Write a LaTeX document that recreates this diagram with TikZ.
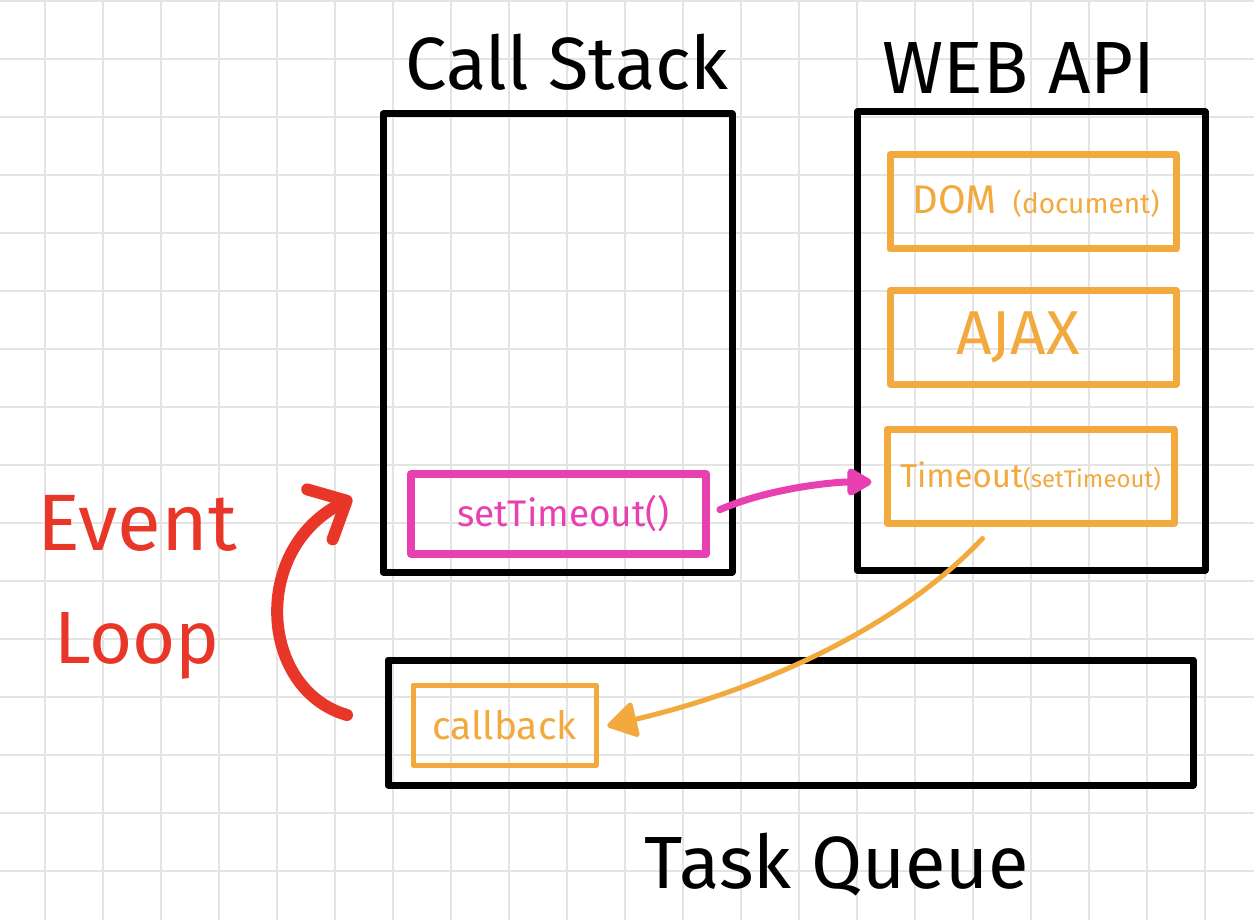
\documentclass[tikz,border=0pt]{standalone}
\usepackage{fontspec}
\setmainfont{Fira Sans}
\usetikzlibrary{arrows.meta,positioning}

\definecolor{gridgray}{RGB}{228,228,228}
\definecolor{inkorange}{RGB}{242,169,62}
\definecolor{inkpink}{RGB}{232,64,176}
\definecolor{inkred}{RGB}{232,54,40}

\begin{document}
\begin{tikzpicture}[x=1pt,y=-1pt,
    gridline/.style={gridgray, line width=2pt},
    bigbox/.style={draw, line width=7pt, line join=round, inner sep=0pt},
    apibox/.style={draw=inkorange, line width=7pt, line join=round, inner sep=0pt, text=inkorange},
    title/.style={font=\fontsize{74}{80}\selectfont, inner sep=0pt, anchor=base}]

    % Canvas
    \fill[white] (0,0) rectangle (1254,920);
    \useasboundingbox (0,0) rectangle (1254,920);

    % Grid
    \foreach \i in {0,...,20}
        \draw[gridline] ({45+58*\i},0) -- ({45+58*\i},920);
    \foreach \j in {0,...,15}
        \draw[gridline] (0,{1+58*\j}) -- (1254,{1+58*\j});

    % Main boxes
    \node[bigbox, minimum width=349pt, minimum height=458pt] (stack) at (557.5,343) {};
    \node[bigbox, minimum width=348pt, minimum height=458pt] (webapi) at (1031,341) {};
    \node[bigbox, minimum width=805pt, minimum height=125pt] (queue) at (790.5,722.5) {};

    % Titles
    \node[title] (stacktitle) at (567,90) {Call Stack};
    \node[title] (apititle) at (1019,94) {WEB API};
    \node[title] (queuetitle) at (837,888) {Task Queue};

    % Web API parts
    \node[apibox, minimum width=286pt, minimum height=94pt] (dom) at (1033,202)
        {\hspace*{6pt}{\fontsize{40}{40}\selectfont DOM}\hspace{16pt}{\fontsize{28}{28}\selectfont(document)}};
    \node[apibox, minimum width=286pt, minimum height=93pt, font=\fontsize{62}{62}\selectfont] (ajax) at (1033,337.5)
        {\hspace*{-30pt}AJAX};
    \node[apibox, minimum width=287pt, minimum height=94pt] (timeout) at (1030.5,476)
        {{\fontsize{33}{33}\selectfont Timeout}{\fontsize{24}{24}\selectfont(setTimeout)}};

    % Stack and queue items
    \node[draw=inkpink, line width=7.5pt, line join=round, inner sep=0pt, text=inkpink,
        minimum width=295pt, minimum height=80pt, font=\fontsize{37}{37}\selectfont] (settimeout) at (558.5,514)
        {\hspace*{10pt}setTimeout()};
    \node[draw=inkorange, line width=5pt, line join=round, inner sep=0pt, text=inkorange,
        minimum width=183pt, minimum height=80pt, font=\fontsize{39}{39}\selectfont] (callback) at (504.5,725)
        {callback};

    % Event loop
    \node[inkred, align=center, inner sep=0pt, font=\fontsize{80}{113}\selectfont] (evloop) at (137,587)
        {Event\\{\fontsize{74}{74}\selectfont Loop}};
    \coordinate (loopfrom) at (347,715);
    \coordinate (loopto) at (352,498);

    % Arrows
    \draw[inkpink, line width=7pt, line cap=round, -{Triangle[length=28pt,width=30pt,round]}, shorten <=11pt, shorten >=12pt]
        (settimeout.east) .. controls +(60,-26) and +(-50,0) .. ([yshift=-6pt]timeout.west);
    \draw[inkorange, line width=5pt, line cap=round, -{Triangle[length=32pt,width=38pt,round]}, shorten >=9pt]
        ([xshift=-48pt,yshift=-12pt]timeout.south) .. controls +(-80,85) and +(170,-40) .. ([yshift=-3pt]callback.east);
    \draw[inkred, line width=12pt, line cap=round, -{Straight Barb[length=30pt,width=56pt,round]}]
        (loopfrom) .. controls +(-87,-25) and +(-102,52) .. (loopto);
\end{tikzpicture}
\end{document}
